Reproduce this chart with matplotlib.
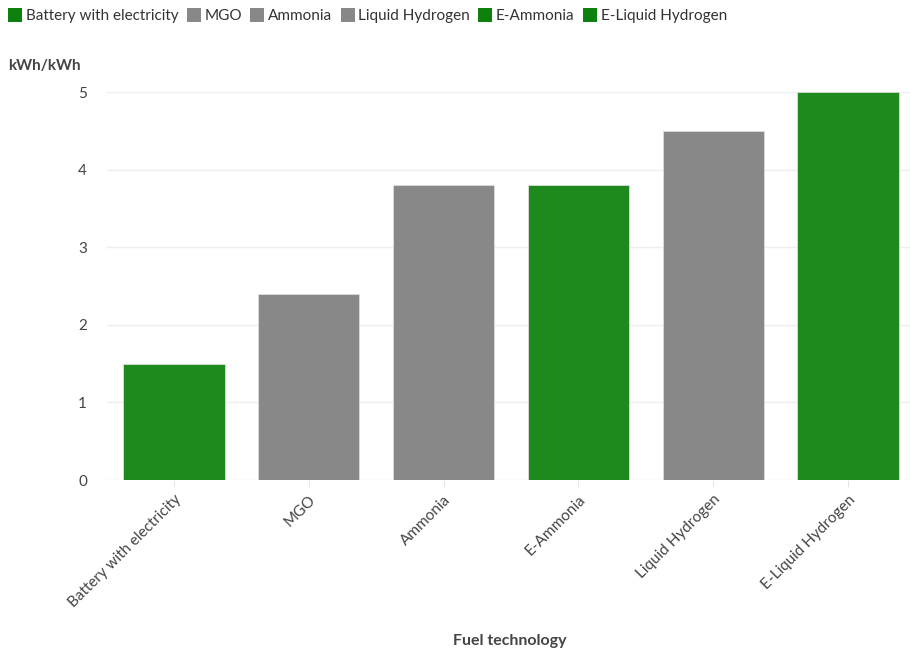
import matplotlib
matplotlib.use("Agg")
import matplotlib.pyplot as plt
from matplotlib.lines import Line2D

plt.rcParams['font.family'] = ['Lato', 'DejaVu Sans']

categories = ["Battery with electricity", "MGO", "Ammonia", "E-Ammonia",
              "Liquid Hydrogen", "E-Liquid Hydrogen"]
values = [1.5, 2.4, 3.8, 3.8, 4.5, 5.0]
is_green = [True, False, False, True, False, True]
legend_order = ["Battery with electricity", "MGO", "Ammonia", "Liquid Hydrogen",
                "E-Ammonia", "E-Liquid Hydrogen"]
y_ticks = [0, 1, 2, 3, 4, 5]

GREEN = "#1e8a1e"
GREEN_LEG = "#0d800d"
GREY = "#888888"
TEXT = "#444444"

fig = plt.figure(figsize=(9.1, 6.55), dpi=100)
ax = fig.add_axes([106.6 / 910, 1 - 480 / 655, 808.8 / 910, (480 - 92) / 655])

x = list(range(len(categories)))
colors = [GREEN if g else GREY for g in is_green]
ax.bar(x, values, width=0.75, color=colors, edgecolor="#dddddd", linewidth=0.6, zorder=3)

ax.set_xlim(-0.5, len(categories) - 0.5)
ax.set_ylim(0, 5)
ax.set_yticks(y_ticks)
ax.set_yticklabels([str(t) for t in y_ticks], fontsize=11, color=TEXT)
ax.set_xticks(x)
ax.set_xticklabels(categories, rotation=45, ha="right", rotation_mode="anchor",
                   fontsize=11, color=TEXT)
ax.tick_params(axis="y", length=0, pad=14)
ax.tick_params(axis="x", length=5, color="#e6e6e6", pad=4)
ax.grid(axis="y", color="#eeeeee", linewidth=1, zorder=0)
for s in ax.spines.values():
    s.set_visible(False)

fig.text(8 / 910, 1 - 66 / 655, "kWh/kWh", fontsize=11, fontweight="bold",
         color=TEXT, ha="left", va="center")
fig.text(510 / 910, 1 - 641 / 655, "Fuel technology", fontsize=11.5, fontweight="bold",
         color=TEXT, ha="center", va="center")

color_by_cat = dict(zip(categories, is_green))
handles = [Line2D([], [], marker="s", linestyle="none", markersize=10,
                  markerfacecolor=GREEN_LEG if color_by_cat[c] else GREY,
                  markeredgewidth=0) for c in legend_order]
fig.legend(handles, legend_order, loc="upper left", bbox_to_anchor=(0.0, 1.0),
           ncol=6, frameon=False, fontsize=11, handlelength=0.8, handletextpad=0.3,
           columnspacing=0.6, labelcolor="#333333", borderaxespad=0.2)

fig.savefig("out.png", dpi=100)
